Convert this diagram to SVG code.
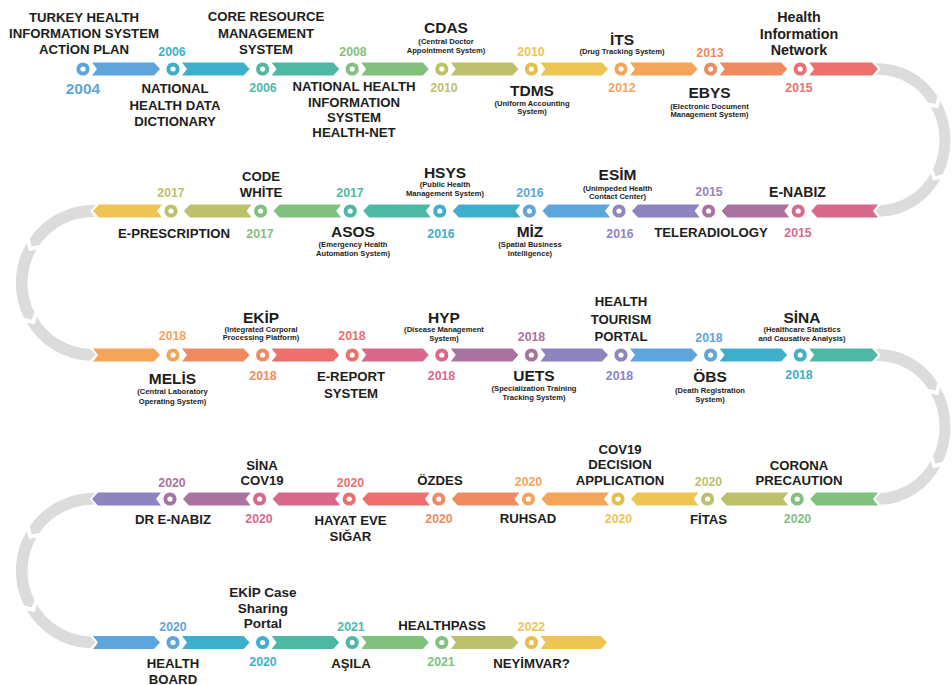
<svg xmlns="http://www.w3.org/2000/svg" width="952" height="685" viewBox="0 0 952 685">
<style>
text{font-family:"Liberation Sans",Arial,sans-serif;font-weight:bold;text-anchor:middle;fill:#1d1d1b}
.t{font-size:13.2px}
.b{font-size:15.5px}
.s{font-size:7.6px}
.m{font-size:14.3px}
.y{font-size:12.3px}
.dot{fill:#fff;stroke-width:4}
.gr{fill:#dcdcdc;stroke:#fff;stroke-width:1.2;stroke-linejoin:miter}
.blue{fill:#5EA5DB}.tealblue{fill:#3EAFCB}.teal{fill:#4DB9A5}.green{fill:#81C07F}.olive{fill:#BDC16C}.yellow{fill:#EEC553}
.orange{fill:#F5A55A}.salmon{fill:#F08A60}.red{fill:#EC6F6D}.pink{fill:#D8698A}.mauve{fill:#A8739F}.purple{fill:#8E85BF}
.k-blue{stroke:#5EA5DB}.k-tealblue{stroke:#3EAFCB}.k-teal{stroke:#4DB9A5}.k-green{stroke:#81C07F}.k-olive{stroke:#BDC16C}.k-yellow{stroke:#E6BE4C}
.k-orange{stroke:#F5A55A}.k-salmon{stroke:#F08A60}.k-red{stroke:#EC6F6D}.k-pink{stroke:#D8698A}.k-mauve{stroke:#A8739F}.k-purple{stroke:#8E85BF}
</style>
<defs>
<g id="curve">
<path class="gr" d="M-4.11,-78.39 A78.5,78.5 0 0 1 64.54,-44.69 L62.42,-35.89 L53.85,-37.29 A65.5,65.5 0 0 0 -3.43,-65.41 L2.26,-71.96 Z"/>
<path class="gr" d="M66.79,-41.25 A78.5,78.5 0 0 1 70.19,35.15 L61.46,37.51 L58.57,29.33 A65.5,65.5 0 0 0 55.73,-34.42 L64.21,-32.57 Z"/>
<path class="gr" d="M68.25,38.77 A78.5,78.5 0 0 1 2.74,78.45 L-3.52,71.91 L2.29,65.46 A65.5,65.5 0 0 0 56.95,32.35 L59.41,40.68 Z"/>
</g>
</defs>

<g id="connectors">
<use href="#curve" transform="translate(878,140) scale(0.93,0.986)"/>
<use href="#curve" transform="translate(93,283) scale(-0.99,1)"/>
<use href="#curve" transform="translate(878,427) scale(0.93,1)"/>
<use href="#curve" transform="translate(93,570.75) scale(-0.99,0.997)"/>
<!-- row 1 -->
<polygon class="blue" points="92,62.5 154,62.5 160,69 154,75.5 92,75.5 97,69"/>
<polygon class="tealblue" points="182,62.5 243.6,62.5 249.6,69 243.6,75.5 182,75.5 187,69"/>
<polygon class="teal" points="271.6,62.5 333.2,62.5 339.2,69 333.2,75.5 271.6,75.5 276.6,69"/>
<polygon class="green" points="361.2,62.5 422.8,62.5 428.8,69 422.8,75.5 361.2,75.5 366.2,69"/>
<polygon class="olive" points="450.8,62.5 512.4,62.5 518.4,69 512.4,75.5 450.8,75.5 455.8,69"/>
<polygon class="yellow" points="540.4,62.5 602,62.5 608,69 602,75.5 540.4,75.5 545.4,69"/>
<polygon class="orange" points="630,62.5 691.6,62.5 697.6,69 691.6,75.5 630,75.5 635,69"/>
<polygon class="salmon" points="719.6,62.5 781.2,62.5 787.2,69 781.2,75.5 719.6,75.5 724.6,69"/>
<polygon class="red" points="809.2,62.5 872,62.5 878,69 872,75.5 809.2,75.5 814.2,69"/>
<!-- row 2 -->
<polygon class="pink" points="878,204.5 817.2,204.5 811.2,211 817.2,217.5 878,217.5 873,211"/>
<polygon class="mauve" points="789.2,204.5 727.6,204.5 721.6,211 727.6,217.5 789.2,217.5 784.2,211"/>
<polygon class="purple" points="699.6,204.5 638,204.5 632,211 638,217.5 699.6,217.5 694.6,211"/>
<polygon class="blue" points="610,204.5 548.4,204.5 542.4,211 548.4,217.5 610,217.5 605,211"/>
<polygon class="tealblue" points="520.4,204.5 458.8,204.5 452.8,211 458.8,217.5 520.4,217.5 515.4,211"/>
<polygon class="teal" points="430.8,204.5 369.2,204.5 363.2,211 369.2,217.5 430.8,217.5 425.8,211"/>
<polygon class="green" points="341.2,204.5 279.6,204.5 273.6,211 279.6,217.5 341.2,217.5 336.2,211"/>
<polygon class="olive" points="251.6,204.5 190,204.5 184,211 190,217.5 251.6,217.5 246.6,211"/>
<polygon class="yellow" points="162,204.5 99,204.5 93,211 99,217.5 162,217.5 157,211"/>
<!-- row 3 -->
<polygon class="orange" points="93,348.5 154,348.5 160,355 154,361.5 93,361.5 98,355"/>
<polygon class="salmon" points="182,348.5 243.6,348.5 249.6,355 243.6,361.5 182,361.5 187,355"/>
<polygon class="red" points="271.6,348.5 333.2,348.5 339.2,355 333.2,361.5 271.6,361.5 276.6,355"/>
<polygon class="pink" points="361.2,348.5 422.8,348.5 428.8,355 422.8,361.5 361.2,361.5 366.2,355"/>
<polygon class="mauve" points="450.8,348.5 512.4,348.5 518.4,355 512.4,361.5 450.8,361.5 455.8,355"/>
<polygon class="purple" points="540.4,348.5 602,348.5 608,355 602,361.5 540.4,361.5 545.4,355"/>
<polygon class="blue" points="630,348.5 691.6,348.5 697.6,355 691.6,361.5 630,361.5 635,355"/>
<polygon class="tealblue" points="719.6,348.5 781.2,348.5 787.2,355 781.2,361.5 719.6,361.5 724.6,355"/>
<polygon class="teal" points="809.2,348.5 872,348.5 878,355 872,361.5 809.2,361.5 814.2,355"/>
<!-- row 4 -->
<polygon class="green" points="878,492.5 816.2,492.5 810.2,499 816.2,505.5 878,505.5 873,499"/>
<polygon class="olive" points="788.2,492.5 726.6,492.5 720.6,499 726.6,505.5 788.2,505.5 783.2,499"/>
<polygon class="yellow" points="698.6,492.5 637,492.5 631,499 637,505.5 698.6,505.5 693.6,499"/>
<polygon class="orange" points="609,492.5 547.4,492.5 541.4,499 547.4,505.5 609,505.5 604,499"/>
<polygon class="salmon" points="519.4,492.5 457.8,492.5 451.8,499 457.8,505.5 519.4,505.5 514.4,499"/>
<polygon class="red" points="429.8,492.5 368.2,492.5 362.2,499 368.2,505.5 429.8,505.5 424.8,499"/>
<polygon class="pink" points="340.2,492.5 278.6,492.5 272.6,499 278.6,505.5 340.2,505.5 335.2,499"/>
<polygon class="mauve" points="250.6,492.5 189,492.5 183,499 189,505.5 250.6,505.5 245.6,499"/>
<polygon class="purple" points="161,492.5 98,492.5 92,499 98,505.5 161,505.5 156,499"/>
<!-- row 5 -->
<polygon class="blue" points="93,636 154,636 160,642.5 154,649 93,649 98,642.5"/>
<polygon class="tealblue" points="182,636 243.6,636 249.6,642.5 243.6,649 182,649 187,642.5"/>
<polygon class="teal" points="271.6,636 333.2,636 339.2,642.5 333.2,649 271.6,649 276.6,642.5"/>
<polygon class="green" points="361.2,636 422.8,636 428.8,642.5 422.8,649 361.2,649 366.2,642.5"/>
<polygon class="olive" points="450.8,636 512.4,636 518.4,642.5 512.4,649 450.8,649 455.8,642.5"/>
<polygon class="yellow" points="540.4,636 601,636 607,642.5 601,649 540.4,649 545.4,642.5"/>
</g>

<!-- ROW 1 -->
<g id="n-action-plan">
<circle class="dot k-blue" cx="83" cy="69" r="4.6"/>
<text class="t" x="84" y="22">TURKEY HEALTH</text>
<text class="t" x="84" y="38">INFORMATION SYSTEM</text>
<text class="t" x="84" y="54">ACTİON PLAN</text>
<text class="blue" x="83" y="94" style="font-size:15.5px">2004</text>
</g>
<g id="n-health-data-dictionary">
<circle class="dot k-tealblue" cx="173" cy="69" r="4.6"/>
<text class="y tealblue" x="172" y="55.5">2006</text>
<text class="t" x="175" y="93">NATIONAL</text>
<text class="t" x="175" y="109.5">HEALTH DATA</text>
<text class="t" x="175" y="126">DICTIONARY</text>
</g>
<g id="n-core-resource">
<circle class="dot k-teal" cx="262.6" cy="69" r="4.6"/>
<text class="t" x="266" y="21">CORE RESOURCE</text>
<text class="t" x="266" y="37.5">MANAGEMENT</text>
<text class="t" x="266" y="54">SYSTEM</text>
<text class="y teal" x="263" y="92">2006</text>
</g>
<g id="n-health-net">
<circle class="dot k-green" cx="352.2" cy="69" r="4.6"/>
<text class="y green" x="353" y="55.5">2008</text>
<text class="t" x="354" y="91">NATIONAL HEALTH</text>
<text class="t" x="354" y="106.5">INFORMATION</text>
<text class="t" x="354" y="121.5">SYSTEM</text>
<text class="t" x="354" y="136.5">HEALTH-NET</text>
</g>
<g id="n-cdas">
<circle class="dot k-olive" cx="441.8" cy="69" r="4.6"/>
<text class="b" x="446" y="33">CDAS</text>
<text class="s" x="446" y="44">(Central Doctor</text>
<text class="s" x="446" y="52.5">Appointment System)</text>
<text class="y olive" x="444" y="92">2010</text>
</g>
<g id="n-tdms">
<circle class="dot k-yellow" cx="531.4" cy="69" r="4.6"/>
<text class="y yellow" x="531" y="55.5">2010</text>
<text class="b" x="532" y="96">TDMS</text>
<text class="s" x="532" y="105.5">(Uniform Accounting</text>
<text class="s" x="532" y="114">System)</text>
</g>
<g id="n-its">
<circle class="dot k-orange" cx="621" cy="69" r="4.6"/>
<text class="b" x="622" y="45">İTS</text>
<text class="s" x="622" y="54">(Drug Tracking System)</text>
<text class="y orange" x="622" y="92">2012</text>
</g>
<g id="n-ebys">
<circle class="dot k-salmon" cx="710.6" cy="69" r="4.6"/>
<text class="y salmon" x="710" y="56.5">2013</text>
<text class="b" x="709.5" y="98">EBYS</text>
<text class="s" x="709.5" y="108.5">(Electronic Document</text>
<text class="s" x="709.5" y="116.5">Management System)</text>
</g>
<g id="n-health-information-network">
<circle class="dot k-red" cx="800.2" cy="69" r="4.6"/>
<text class="m" x="799" y="22">Health</text>
<text class="m" x="799" y="39">Information</text>
<text class="m" x="799" y="55">Network</text>
<text class="y red" x="799" y="92">2015</text>
</g>

<!-- ROW 2 -->
<g id="n-e-nabiz">
<circle class="dot k-pink" cx="798.2" cy="211" r="4.6"/>
<text class="t" x="797.5" y="196.5" style="font-size:14px">E-NABIZ</text>
<text class="y pink" x="798" y="236.5">2015</text>
</g>
<g id="n-teleradiology">
<circle class="dot k-mauve" cx="708.6" cy="211" r="4.6"/>
<text class="y" x="709" y="196" style="fill:#9A84BA">2015</text>
<text class="t" x="711" y="236.5">TELERADIOLOGY</text>
</g>
<g id="n-esim">
<circle class="dot k-purple" cx="619" cy="211" r="4.6"/>
<text class="b" x="617.5" y="180">ESİM</text>
<text class="s" x="617.5" y="190.5">(Unimpeded Health</text>
<text class="s" x="617.5" y="198.5">Contact Center)</text>
<text class="y purple" x="620" y="237.5">2016</text>
</g>
<g id="n-miz">
<circle class="dot k-blue" cx="529.4" cy="211" r="4.6"/>
<text class="y blue" x="530" y="196.5">2016</text>
<text class="b" x="530" y="237">MİZ</text>
<text class="s" x="530" y="246.5">(Spatial Business</text>
<text class="s" x="530" y="255.5">Intelligence)</text>
</g>
<g id="n-hsys">
<circle class="dot k-tealblue" cx="439.8" cy="211" r="4.6"/>
<text class="b" x="445" y="177.5">HSYS</text>
<text class="s" x="445" y="187">(Public Health</text>
<text class="s" x="445" y="195.5">Management System)</text>
<text class="y tealblue" x="441" y="237.5">2016</text>
</g>
<g id="n-asos">
<circle class="dot k-teal" cx="350.2" cy="211" r="4.6"/>
<text class="y teal" x="350" y="196.5">2017</text>
<text class="b" x="353" y="237">ASOS</text>
<text class="s" x="353" y="246.5">(Emergency Health</text>
<text class="s" x="353" y="255.5">Automation System)</text>
</g>
<g id="n-code-white">
<circle class="dot k-green" cx="260.6" cy="211" r="4.6"/>
<text class="t" x="261" y="180.5">CODE</text>
<text class="t" x="261" y="196.5">WHİTE</text>
<text class="y green" x="260" y="237.5">2017</text>
</g>
<g id="n-e-prescription">
<circle class="dot k-olive" cx="171" cy="211" r="4.6"/>
<text class="y olive" x="171" y="196.5">2017</text>
<text class="t" x="174" y="237.5">E-PRESCRIPTION</text>
</g>

<!-- ROW 3 -->
<g id="n-melis">
<circle class="dot k-orange" cx="173" cy="355" r="4.6"/>
<text class="y orange" x="172.5" y="340">2018</text>
<text class="b" x="172.5" y="383.5">MELİS</text>
<text class="s" x="172.5" y="394">(Central Laboratory</text>
<text class="s" x="172.5" y="403.5">Operating System)</text>
</g>
<g id="n-ekip">
<circle class="dot k-salmon" cx="262.6" cy="355" r="4.6"/>
<text class="b" x="261" y="322.5">EKİP</text>
<text class="s" x="261" y="331.5">(Integrated Corporal</text>
<text class="s" x="261" y="340">Processing Platform)</text>
<text class="y salmon" x="263" y="380">2018</text>
</g>
<g id="n-e-report">
<circle class="dot k-red" cx="352.2" cy="355" r="4.6"/>
<text class="y red" x="352" y="340">2018</text>
<text class="t" x="351" y="381">E-REPORT</text>
<text class="t" x="351" y="398">SYSTEM</text>
</g>
<g id="n-hyp">
<circle class="dot k-pink" cx="441.8" cy="355" r="4.6"/>
<text class="b" x="444" y="322.5">HYP</text>
<text class="s" x="444" y="332">(Disease Management</text>
<text class="s" x="444" y="340.5">System)</text>
<text class="y pink" x="441.5" y="380">2018</text>
</g>
<g id="n-uets">
<circle class="dot k-mauve" cx="531.4" cy="355" r="4.6"/>
<text class="y mauve" x="531.5" y="341">2018</text>
<text class="b" x="534" y="381">UETS</text>
<text class="s" x="534" y="391">(Specialization Training</text>
<text class="s" x="534" y="400">Tracking System)</text>
</g>
<g id="n-health-tourism">
<circle class="dot k-purple" cx="621" cy="355" r="4.6"/>
<text class="t" x="621" y="305.5">HEALTH</text>
<text class="t" x="621" y="323.5">TOURISM</text>
<text class="t" x="621" y="341">PORTAL</text>
<text class="y purple" x="619.5" y="379.5">2018</text>
</g>
<g id="n-obs">
<circle class="dot k-blue" cx="710.6" cy="355" r="4.6"/>
<text class="y blue" x="709" y="341.5">2018</text>
<text class="b" x="710" y="382">ÖBS</text>
<text class="s" x="710" y="393">(Death Registration</text>
<text class="s" x="710" y="402">System)</text>
</g>
<g id="n-sina">
<circle class="dot k-tealblue" cx="800.2" cy="355" r="4.6"/>
<text class="b" x="802" y="322.5">SİNA</text>
<text class="s" x="802" y="331.5">(Healthcare Statistics</text>
<text class="s" x="802" y="340.5">and Causative Analysis)</text>
<text class="y tealblue" x="799" y="378.5">2018</text>
</g>

<!-- ROW 4 -->
<g id="n-corona-precaution">
<circle class="dot k-green" cx="797.2" cy="499" r="4.6"/>
<text class="t" x="799" y="469.5">CORONA</text>
<text class="t" x="799" y="485">PRECAUTION</text>
<text class="y green" x="797.5" y="523">2020</text>
</g>
<g id="n-fitas">
<circle class="dot k-olive" cx="707.6" cy="499" r="4.6"/>
<text class="y olive" x="708.5" y="486">2020</text>
<text class="t" x="708.5" y="523.5">FİTAS</text>
</g>
<g id="n-cov19-decision">
<circle class="dot k-yellow" cx="618" cy="499" r="4.6"/>
<text class="t" x="620" y="453.5">COV19</text>
<text class="t" x="620" y="469">DECISION</text>
<text class="t" x="620" y="484.5">APPLICATION</text>
<text class="y yellow" x="618.5" y="523">2020</text>
</g>
<g id="n-ruhsad">
<circle class="dot k-orange" cx="528.4" cy="499" r="4.6"/>
<text class="y orange" x="528.5" y="486">2020</text>
<text class="t" x="528" y="523">RUHSAD</text>
</g>
<g id="n-ozdes">
<circle class="dot k-salmon" cx="438.8" cy="499" r="4.6"/>
<text class="t" x="440" y="485">ÖZDES</text>
<text class="y salmon" x="439" y="522.5">2020</text>
</g>
<g id="n-hayat-eve-sigar">
<circle class="dot k-red" cx="349.2" cy="499" r="4.6"/>
<text class="y red" x="350.5" y="487">2020</text>
<text class="t" x="350.5" y="525">HAYAT EVE</text>
<text class="t" x="350.5" y="541">SIĞAR</text>
</g>
<g id="n-sina-cov19">
<circle class="dot k-pink" cx="259.6" cy="499" r="4.6"/>
<text class="t" x="262" y="469.5">SİNA</text>
<text class="t" x="262" y="485">COV19</text>
<text class="y pink" x="259" y="522.5">2020</text>
</g>
<g id="n-dr-e-nabiz">
<circle class="dot k-mauve" cx="170" cy="499" r="4.6"/>
<text class="y mauve" x="172" y="487">2020</text>
<text class="t" x="173" y="523.5">DR E-NABIZ</text>
</g>

<!-- ROW 5 -->
<g id="n-health-board">
<circle class="dot k-blue" cx="173" cy="642.5" r="4.6"/>
<text class="y blue" x="173" y="631">2020</text>
<text class="t" x="173" y="668">HEALTH</text>
<text class="t" x="173" y="683.5">BOARD</text>
</g>
<g id="n-ekip-case-sharing">
<circle class="dot k-tealblue" cx="262.6" cy="642.5" r="4.6"/>
<text class="t" x="263" y="597" style="font-size:13.5px">EKİP Case</text>
<text class="t" x="263" y="612.5" style="font-size:13.5px">Sharing</text>
<text class="t" x="263" y="628" style="font-size:13.5px">Portal</text>
<text class="y tealblue" x="263" y="666">2020</text>
</g>
<g id="n-asila">
<circle class="dot k-teal" cx="352.2" cy="642.5" r="4.6"/>
<text class="y teal" x="351" y="631">2021</text>
<text class="t" x="351" y="668">AŞILA</text>
</g>
<g id="n-healthpass">
<circle class="dot k-green" cx="441.8" cy="642.5" r="4.6"/>
<text class="t" x="442" y="630">HEALTHPASS</text>
<text class="y green" x="441" y="666">2021</text>
</g>
<g id="n-neyimvar">
<circle class="dot k-yellow" cx="531.4" cy="642.5" r="4.6"/>
<text class="y yellow" x="531.5" y="631">2022</text>
<text class="t" x="531.5" y="668">NEYİMVAR?</text>
</g>
</svg>
